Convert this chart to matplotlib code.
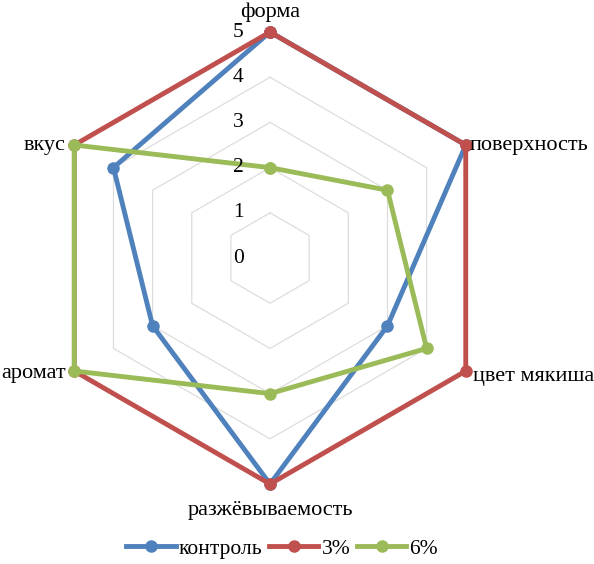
import numpy as np
import matplotlib.pyplot as plt

plt.rcParams['font.family'] = ['Liberation Serif', 'DejaVu Serif']

categories = ['форма', 'поверхность', 'цвет мякиша', 'разжёвываемость', 'аромат', 'вкус']
series_names = ['контроль', '3%', '6%']
kontrol = [5, 5, 3, 5, 3, 4]
p3 = [5, 5, 5, 5, 5, 5]
p6 = [2, 3, 4, 3, 5, 5]
levels = [0, 1, 2, 3, 4, 5]

colors = ['#4F81BD', '#C0504D', '#9BBB59']

n = len(categories)
angles = np.linspace(0, 2 * np.pi, n, endpoint=False)
ang_closed = np.append(angles, angles[0])

fig = plt.figure(figsize=(5.94, 5.64), dpi=100)
ax = fig.add_axes([0.0741, 0.1418, 0.761, 0.8014], projection='polar')
ax.set_theta_offset(np.pi / 2)
ax.set_theta_direction(-1)
ax.set_ylim(0, 5)
ax.grid(False)
ax.set_xticks([])
ax.set_yticks([])
ax.spines['polar'].set_visible(False)
ax.patch.set_alpha(0)

# hexagon grid
for lv in levels[1:]:
    ax.plot(ang_closed, [lv] * (n + 1), color='#DDDDDD', lw=0.9, zorder=1)

for vals, name, c in zip([kontrol, p3, p6], series_names, colors):
    v = np.append(vals, vals[0])
    ax.plot(ang_closed, v, color=c, lw=3.5, marker='o', ms=8, label=name,
            zorder=3, clip_on=False)

# value labels along the top axis
for lv in levels:
    ax.annotate(str(lv), xy=(0, lv), xytext=(-23, 0), textcoords='offset points',
                ha='center', va='center', fontsize=15.5)

# category labels
offsets = [(0, 7, 'center', 'bottom'), (3, 0, 'left', 'center'),
           (5, -4, 'left', 'center'), (0, -12, 'center', 'top'),
           (-6, -2, 'right', 'center'), (-6, 0, 'right', 'center')]
for a, lab, (dx, dy, ha, va) in zip(angles, categories, offsets):
    ax.annotate(lab, xy=(a, 5), xytext=(dx, dy), textcoords='offset points',
                ha=ha, va=va, fontsize=16, annotation_clip=False)

fig.legend(loc='lower center', bbox_to_anchor=(0.475, -0.025), ncol=3, frameon=False,
           fontsize=15.5, handlelength=2.3, columnspacing=0.3, handletextpad=0.15)

fig.savefig('out.png', dpi=100)
